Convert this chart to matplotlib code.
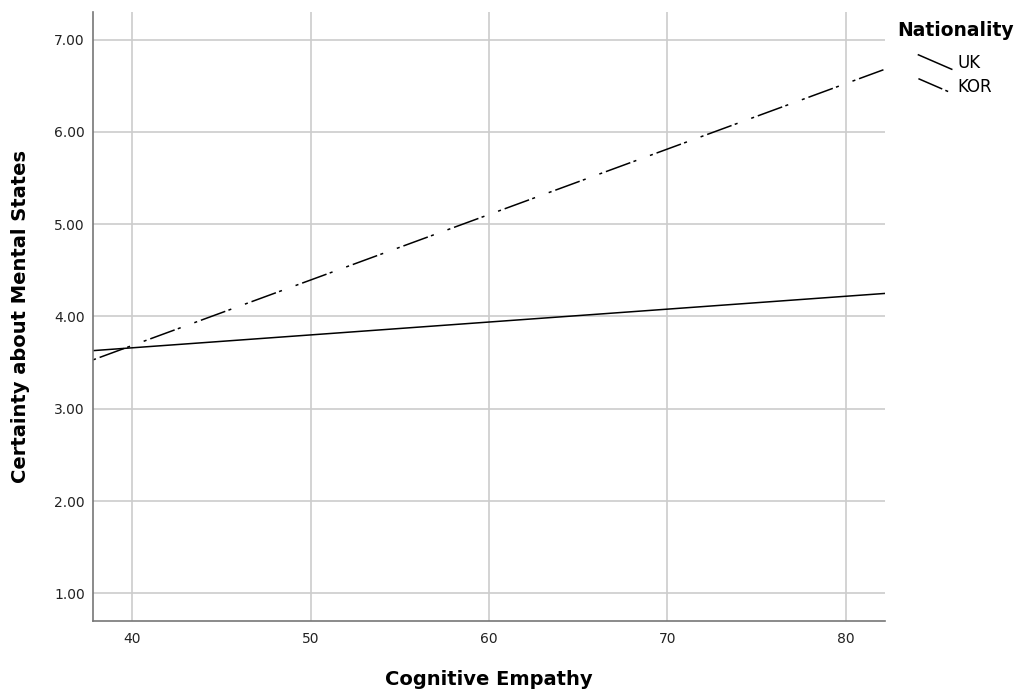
import matplotlib.pyplot as plt
from matplotlib.lines import Line2D
from matplotlib.legend_handler import HandlerLine2D

# fitted lines, values at the two ends of the x range
empathy = [37.8, 82.2]
uk = [3.63, 4.25]
kor = [3.53, 6.68]
x_ticks = [40, 50, 60, 70, 80]
y_ticks = [1, 2, 3, 4, 5, 6, 7]

kor_dashes = [2, 2.6, 17, 2.2, 2, 9.5]


class DiagonalHandler(HandlerLine2D):
    def create_artists(self, legend, orig_handle, xdescent, ydescent,
                       width, height, fontsize, trans):
        line = Line2D([-xdescent, width - xdescent],
                      [height - ydescent + 1, -ydescent - 1])
        self.update_prop(line, orig_handle, legend)
        if orig_handle.get_label() == 'KOR':
            # start the handle on the long dash, like the reference
            line.set_linestyle((4.6, kor_dashes))
        line.set_transform(trans)
        return [line]


plt.rcParams['font.family'] = ['DejaVu Sans']
fig = plt.figure(figsize=(10.19, 6.93), dpi=100)
ax = fig.add_axes([0.0913, 0.1039, 0.7772, 0.8788])

ax.plot(empathy, uk, color='black', lw=1.1, label='UK')
ax.plot(empathy, kor, color='black', lw=1.1, dashes=kor_dashes, label='KOR')

ax.set_xlim(37.8, 82.2)
ax.set_ylim(0.70, 7.30)
ax.set_xticks(x_ticks)
ax.set_yticks(y_ticks)
ax.set_yticklabels(['%.2f' % v for v in y_ticks])
ax.grid(True, color='#cccccc', lw=1.2)
ax.set_axisbelow(True)
for s in ['top', 'right']:
    ax.spines[s].set_visible(False)
for s in ['left', 'bottom']:
    ax.spines[s].set_color('#777777')
    ax.spines[s].set_linewidth(1.2)
ax.tick_params(length=0, labelsize=10, colors='#222222')
ax.tick_params(axis='x', pad=8)
ax.tick_params(axis='y', pad=6)

ax.set_xlabel('Cognitive Empathy', fontsize=14, fontweight='bold', va='center')
ax.xaxis.set_label_coords(0.5, -0.0954)
ax.set_ylabel('Certainty about Mental States', fontsize=14, fontweight='bold', va='center')
ax.yaxis.set_label_coords(-0.092, 0.5)

handles, labels = ax.get_legend_handles_labels()
leg = fig.legend(handles, labels, loc='upper left',
                 bbox_to_anchor=(897 / 1019, 1 - 21 / 693), frameon=False,
                 title='Nationality', fontsize=12, handlelength=2.0,
                 handletextpad=0.35, labelspacing=0.35, borderaxespad=0,
                 borderpad=0, handler_map={Line2D: DiagonalHandler()})
leg.get_title().set_fontweight('bold')
leg.get_title().set_fontsize(13.5)
leg._legend_box.sep = 10

fig.savefig('out.png', dpi=100)
